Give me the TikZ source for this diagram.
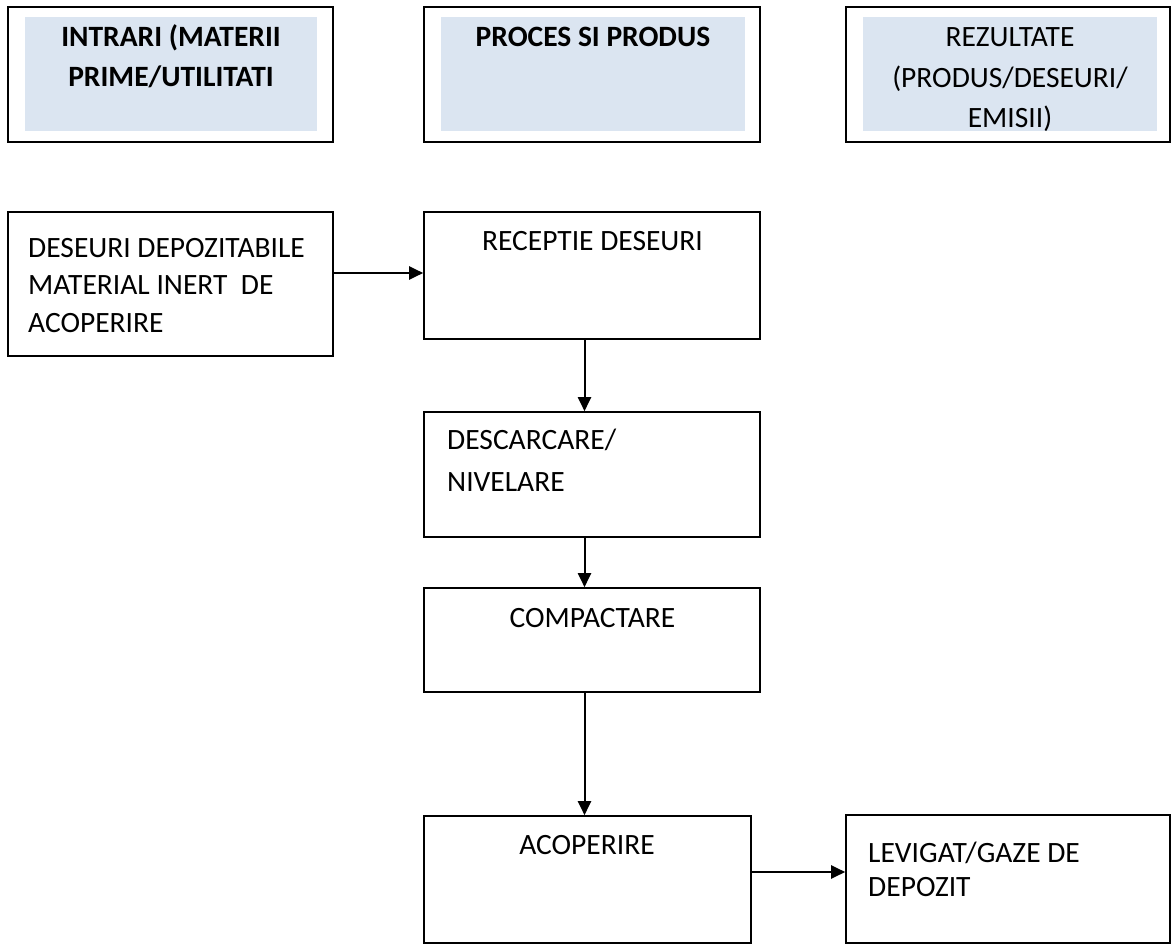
\documentclass[tikz,border=0pt]{standalone}
\usepackage{fontspec}
\setmainfont{Carlito}
\usetikzlibrary{positioning,arrows.meta}
\definecolor{cHead}{RGB}{219,229,241}

\begin{document}
\begin{tikzpicture}[x=1pt,y=-1pt,
   pbox/.style={draw,line width=1.6pt,rectangle,inner sep=0pt},
   hfill/.style={fill=cHead,rectangle,inner sep=0pt},
   ptext/.style={inner sep=0pt,font=\fontsize{29.5}{#1}\selectfont},
   ptext/.default=40,
   btext/.style={inner sep=0pt,font=\fontsize{29.5}{40}\selectfont\bfseries},
   flow/.style={line width=2pt,-{Triangle[length=14pt,width=13pt]}}]
 \useasboundingbox (0,0) rectangle (1172,944);
 % header row: frame, blue panel, title (base = last line)
 \node[pbox,minimum width=325pt,minimum height=135pt] (hIn) at (170.5,74.5) {};
 \node[pbox,minimum width=336pt,minimum height=135pt] (hPr) at (592,74.5) {};
 \node[pbox,minimum width=324pt,minimum height=135pt] (hRe) at (1008,74.5) {};
 \node[hfill,minimum width=292pt,minimum height=114pt] (fIn) at (171,74) {};
 \node[hfill,minimum width=304pt,minimum height=114pt] (fPr) at (593,74) {};
 \node[hfill,minimum width=294pt,minimum height=114pt] (fRe) at (1010,74) {};
 \node[btext,align=center,anchor=base] (tIn) at (171,87)
   {INTRARI (MATERII\\PRIME/UTILITATI};
 \node[btext,anchor=base] (tPr) at (593,47) {PROCES SI PRODUS};
 \node[ptext=40.5,align=center,anchor=base] (tRe) at (1010,128)
   {REZULTATE\\(PRODUS/DESEURI/\\EMISII)};
 % process boxes
 \node[pbox,minimum width=325pt,minimum height=144pt] (inp) at (170.5,284) {};
 \node[pbox,minimum width=336pt,minimum height=127pt] (rec) at (592,275.5) {};
 \node[pbox,minimum width=336pt,minimum height=125pt] (desc) at (592,474.5) {};
 \node[pbox,minimum width=336pt,minimum height=104pt] (comp) at (592,640) {};
 \node[pbox,minimum width=327pt,minimum height=127pt] (acop) at (587.5,879.5) {};
 \node[pbox,minimum width=324pt,minimum height=128pt] (lev) at (1008,879) {};
 \node[ptext=37.5,align=left,anchor=base west] (tInp) at (28,332)
   {DESEURI DEPOZITABILE\\MATERIAL INERT\ \ DE\\ACOPERIRE};
 \node[ptext,anchor=base] (tRec) at (592.5,250) {RECEPTIE DESEURI};
 \node[ptext=42,align=left,anchor=base west] (tDesc) at (447,491.5) {DESCARCARE/\\NIVELARE};
 \node[ptext,anchor=base] (tComp) at (592.5,627) {COMPACTARE};
 \node[ptext,anchor=base] (tAcop) at (587,854) {ACOPERIRE};
 \node[ptext=34,align=left,anchor=base west] (tLev) at (868,896) {LEVIGAT/GAZE DE\\DEPOZIT};
 % connectors
 \coordinate (ay) at (0,273);
 \coordinate (ax) at (584.5,0);
 \coordinate (by) at (0,872);
 \draw[flow] (inp.east |- ay) -- (rec.west |- ay);
 \draw[flow] (rec.south -| ax) -- (desc.north -| ax);
 \draw[flow] (desc.south -| ax) -- (comp.north -| ax);
 \draw[flow] (comp.south -| ax) -- (acop.north -| ax);
 \draw[flow] (acop.east |- by) -- (lev.west |- by);
\end{tikzpicture}
\end{document}
